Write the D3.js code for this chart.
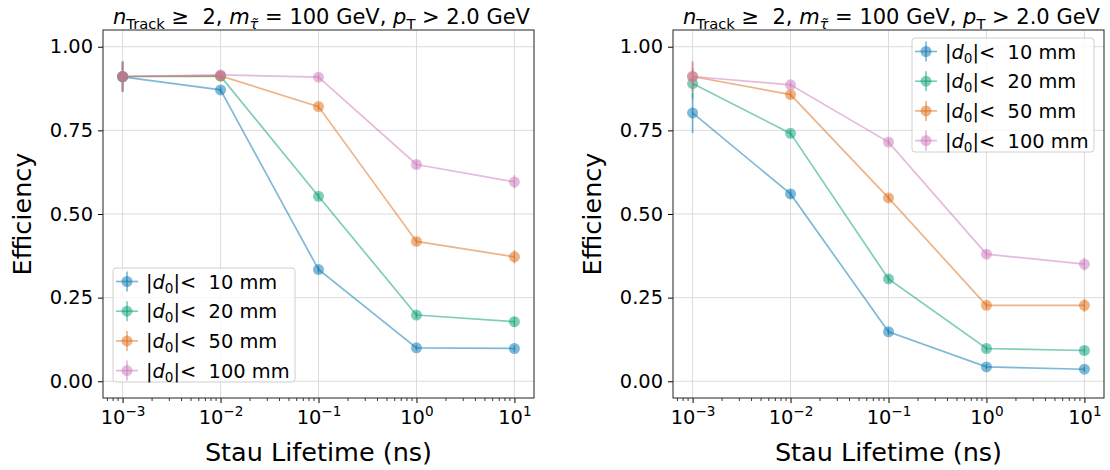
<!DOCTYPE html>
<html><head><meta charset="utf-8">
<script src="https://cdn.jsdelivr.net/npm/d3@7"></script>
<style>body{margin:0;background:#fff}svg{display:block}text{font-family:"DejaVu Sans",sans-serif;white-space:pre}</style>
</head><body><svg id="c" width="1110" height="470"></svg>
<script>
const lifetimes = [1e-3, 1e-2, 1e-1, 1, 10];
const seriesLabels = ["10", "20", "50", "100"];
const colors = ["#0173b2", "#029e73", "#dd6a10", "#cc78bc"];
const yTicks = [0, 0.25, 0.5, 0.75, 1.0];
const xTicks = [1e-3, 1e-2, 1e-1, 1, 10];

// left panel values (efficiency)
const left_d10  = [0.910, 0.871, 0.334, 0.100, 0.098];
const left_d20  = [0.911, 0.912, 0.553, 0.198, 0.178];
const left_d50  = [0.911, 0.913, 0.821, 0.418, 0.372];
const left_d100 = [0.911, 0.916, 0.909, 0.648, 0.596];
const left_e10  = [0.045, 0.010, 0.010, 0.008, 0.010];
const left_e20  = [0.045, 0.010, 0.010, 0.010, 0.015];
const left_e50  = [0.045, 0.010, 0.010, 0.010, 0.020];
const left_e100 = [0.045, 0.010, 0.010, 0.012, 0.020];

// right panel values
const right_d10  = [0.802, 0.560, 0.148, 0.043, 0.036];
const right_d20  = [0.890, 0.741, 0.306, 0.098, 0.092];
const right_d50  = [0.911, 0.857, 0.548, 0.227, 0.227];
const right_d100 = [0.911, 0.886, 0.715, 0.380, 0.350];
const right_e10  = [0.060, 0.012, 0.010, 0.008, 0.008];
const right_e20  = [0.045, 0.010, 0.010, 0.010, 0.012];
const right_e50  = [0.045, 0.010, 0.010, 0.010, 0.020];
const right_e100 = [0.045, 0.010, 0.010, 0.012, 0.020];

const panels = [
  {x0: 103, x1: 534, vals: [left_d10, left_d20, left_d50, left_d100], errs: [left_e10, left_e20, left_e50, left_e100], legend: {x: 113, y: 268}},
  {x0: 673, x1: 1104, vals: [right_d10, right_d20, right_d50, right_d100], errs: [right_e10, right_e20, right_e50, right_e100], legend: {x: 912, y: 38}}
];
const yTop = 30, yBot = 398;
const TF = 19.4, SUP = 13.6;
const svg = d3.select("#c");

panels.forEach(p => {
  const x = d3.scaleLog().domain([Math.pow(10, -3.2), Math.pow(10, 1.2)]).range([p.x0, p.x1]);
  const y = d3.scaleLinear().domain([-0.05, 1.05]).range([yBot, yTop]);
  const g = svg.append("g");

  // grid
  g.selectAll(".gx").data(xTicks).join("line")
    .attr("x1", d => x(d)).attr("x2", d => x(d)).attr("y1", yTop).attr("y2", yBot)
    .attr("stroke", "#dcdcdc").attr("stroke-width", 1);
  g.selectAll(".gy").data(yTicks).join("line")
    .attr("y1", d => y(d)).attr("y2", d => y(d)).attr("x1", p.x0).attr("x2", p.x1)
    .attr("stroke", "#dcdcdc").attr("stroke-width", 1);

  // y axis
  const ya = g.append("g").attr("transform", `translate(${p.x0},0)`)
    .call(d3.axisLeft(y).tickValues(yTicks).tickFormat(d3.format(".2f")).tickSize(5).tickPadding(5));
  ya.select(".domain").remove();
  ya.selectAll("text").attr("font-size", TF).attr("fill", "#000").attr("font-family", "DejaVu Sans");
  ya.selectAll("line").attr("stroke", "#000");

  // x axis major
  const xa = g.append("g").attr("transform", `translate(0,${yBot})`)
    .call(d3.axisBottom(x).tickValues(xTicks).tickFormat("").tickSize(5));
  xa.select(".domain").remove();
  xa.selectAll("line").attr("stroke", "#000");
  xa.selectAll(".tick").append("text")
    .attr("y", 26).attr("text-anchor", "middle").attr("font-size", TF).attr("fill", "#000")
    .each(function(d) {
      const e = Math.round(Math.log10(d));
      const t = d3.select(this);
      t.append("tspan").text("10");
      t.append("tspan").attr("dy", -8).attr("font-size", SUP).text(String(e).replace("-", "\u2212"));
    });
  // minor ticks
  const minors = [];
  for (let k = -4; k <= 1; k++) for (let m = 2; m <= 9; m++) {
    const v = m * Math.pow(10, k);
    if (v > x.domain()[0] && v < x.domain()[1]) minors.push(v);
  }
  g.selectAll(".mt").data(minors).join("line")
    .attr("x1", d => x(d)).attr("x2", d => x(d)).attr("y1", yBot).attr("y2", yBot + 3)
    .attr("stroke", "#000").attr("stroke-width", 0.8);

  // frame
  g.append("rect").attr("x", p.x0).attr("y", yTop).attr("width", p.x1 - p.x0).attr("height", yBot - yTop)
    .attr("fill", "none").attr("stroke", "#222").attr("stroke-width", 1);

  // series
  p.vals.forEach((vals, i) => {
    const col = colors[i];
    const sg = g.append("g");
    const line = d3.line().x((d, j) => x(lifetimes[j])).y(d => y(d));
    sg.append("path").datum(vals).attr("d", line).attr("fill", "none")
      .attr("stroke", col).attr("stroke-width", 1.7).attr("stroke-opacity", 0.5);
    sg.selectAll(".eb").data(vals).join("line")
      .attr("x1", (d, j) => x(lifetimes[j])).attr("x2", (d, j) => x(lifetimes[j]))
      .attr("y1", (d, j) => y(d - p.errs[i][j])).attr("y2", (d, j) => y(d + p.errs[i][j]))
      .attr("stroke", col).attr("stroke-width", 1.7).attr("stroke-opacity", 0.5);
    sg.selectAll(".pt").data(vals).join("circle")
      .attr("cx", (d, j) => x(lifetimes[j])).attr("cy", d => y(d)).attr("r", 5.5)
      .attr("fill", col).attr("fill-opacity", 0.5);
  });

  // title
  const cx = (p.x0 + p.x1) / 2;
  const tt = svg.append("text").attr("x", cx + 3).attr("y", 24).attr("text-anchor", "middle").attr("font-size", 21).attr("fill", "#000");
  tt.append("tspan").attr("font-style", "italic").text("n");
  tt.append("tspan").attr("dy", 5).attr("font-size", 14.7).text("Track");
  tt.append("tspan").attr("dy", -5).text(" \u2265  2, ");
  tt.append("tspan").attr("font-style", "italic").text("m");
  tt.append("tspan").attr("dy", 5).attr("font-size", 14.7).attr("font-style", "italic").text("\u03C4\u0303");
  tt.append("tspan").attr("dy", -5).text(" = 100 GeV, ");
  tt.append("tspan").attr("font-style", "italic").text("p");
  tt.append("tspan").attr("dy", 5).attr("font-size", 14.7).text("T");
  tt.append("tspan").attr("dy", -5).text(" > 2.0 GeV");

  // axis labels
  svg.append("text").attr("x", cx).attr("y", 461).attr("text-anchor", "middle").attr("font-size", 25.5).attr("fill", "#000").text("Stau Lifetime (ns)");
  svg.append("text").attr("transform", `translate(${p.x0 - 72},${(yTop + yBot) / 2}) rotate(-90)`)
    .attr("text-anchor", "middle").attr("font-size", 25.5).attr("fill", "#000").text("Efficiency");

  // legend
  const lg = svg.append("g").attr("transform", `translate(${p.legend.x},${p.legend.y})`);
  lg.append("rect").attr("width", 182).attr("height", 114).attr("rx", 3)
    .attr("fill", "#fff").attr("fill-opacity", 0.8).attr("stroke", "#d0d0d0");
  seriesLabels.forEach((lab, i) => {
    const ry = 13.5 + i * 29.7;
    const col = colors[i];
    lg.append("line").attr("x1", 3).attr("x2", 25).attr("y1", ry).attr("y2", ry).attr("stroke", col).attr("stroke-width", 1.7).attr("stroke-opacity", 0.5);
    lg.append("line").attr("x1", 14).attr("x2", 14).attr("y1", ry - 10).attr("y2", ry + 10).attr("stroke", col).attr("stroke-width", 1.7).attr("stroke-opacity", 0.5);
    lg.append("circle").attr("cx", 14).attr("cy", ry).attr("r", 5.5).attr("fill", col).attr("fill-opacity", 0.5);
    const t = lg.append("text").attr("x", 33).attr("y", ry + 7).attr("font-size", TF).attr("fill", "#000");
    t.append("tspan").text("|");
    t.append("tspan").attr("font-style", "italic").text("d");
    t.append("tspan").attr("dy", 4).attr("font-size", SUP).text("0");
    t.append("tspan").attr("dy", -4).text("|<  " + lab + " mm");
  });
});
</script></body></html>
